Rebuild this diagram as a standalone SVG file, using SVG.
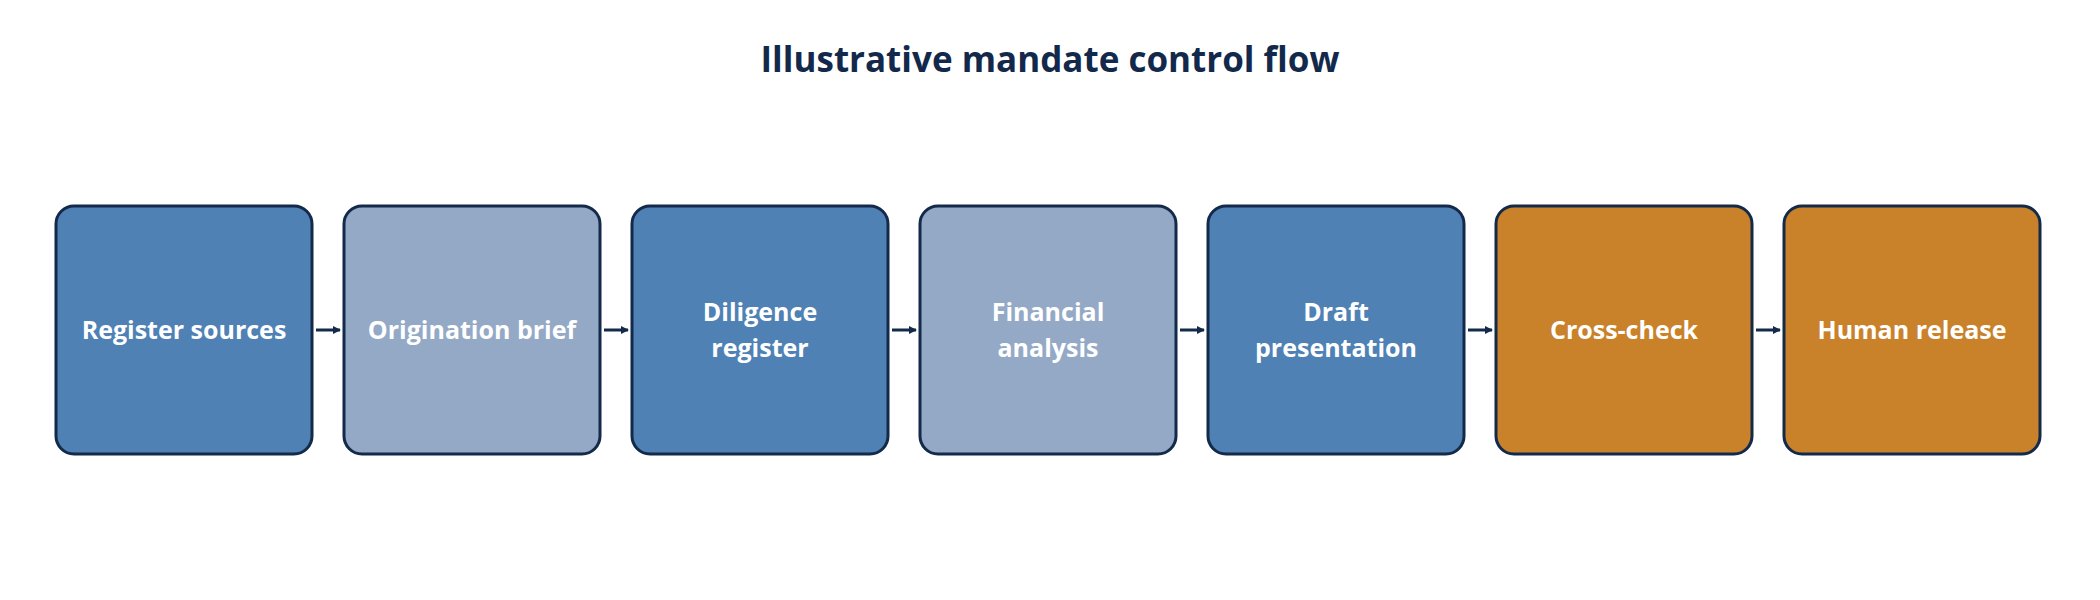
<svg xmlns="http://www.w3.org/2000/svg" width="2100" height="600" viewBox="0 0 2100 600">
<style>
.n rect{stroke:#132a4a;stroke-width:3}
.d{fill:#4f81b4}.l{fill:#94a9c6}.o{fill:#c9822a}
.t{font-family:"Open Sans","Liberation Sans",sans-serif;font-weight:bold;font-size:25px;fill:#fff;text-anchor:middle}
.c line{stroke:#132a4a;stroke-width:3}
</style>
<defs><marker id="a" markerWidth="8" markerHeight="8" refX="7" refY="4" orient="auto" markerUnits="userSpaceOnUse"><path d="M0,0L8,4L0,8z" fill="#132a4a"/></marker></defs>
<rect width="2100" height="600" fill="#fff"/>
<text x="1050" y="72" text-anchor="middle" font-family="'Open Sans','Liberation Sans',sans-serif" font-weight="bold" font-size="35" fill="#13294b">Illustrative mandate control flow</text>
<g class="c">
<line x1="316" y1="330" x2="340" y2="330" marker-end="url(#a)"/>
<line x1="604" y1="330" x2="628" y2="330" marker-end="url(#a)"/>
<line x1="892" y1="330" x2="916" y2="330" marker-end="url(#a)"/>
<line x1="1180" y1="330" x2="1204" y2="330" marker-end="url(#a)"/>
<line x1="1468" y1="330" x2="1492" y2="330" marker-end="url(#a)"/>
<line x1="1756" y1="330" x2="1780" y2="330" marker-end="url(#a)"/>
</g>
<g id="n1" class="n"><rect class="d" x="56" y="206" width="256" height="248" rx="18"/><text class="t" x="184" y="339">Register sources</text></g>
<g id="n2" class="n"><rect class="l" x="344" y="206" width="256" height="248" rx="18"/><text class="t" x="472" y="339">Origination brief</text></g>
<g id="n3" class="n"><rect class="d" x="632" y="206" width="256" height="248" rx="18"/><text class="t" x="760" y="321">Diligence</text><text class="t" x="760" y="357">register</text></g>
<g id="n4" class="n"><rect class="l" x="920" y="206" width="256" height="248" rx="18"/><text class="t" x="1048" y="321">Financial</text><text class="t" x="1048" y="357">analysis</text></g>
<g id="n5" class="n"><rect class="d" x="1208" y="206" width="256" height="248" rx="18"/><text class="t" x="1336" y="321">Draft</text><text class="t" x="1336" y="357">presentation</text></g>
<g id="n6" class="n"><rect class="o" x="1496" y="206" width="256" height="248" rx="18"/><text class="t" x="1624" y="339">Cross-check</text></g>
<g id="n7" class="n"><rect class="o" x="1784" y="206" width="256" height="248" rx="18"/><text class="t" x="1912" y="339">Human release</text></g>
</svg>
